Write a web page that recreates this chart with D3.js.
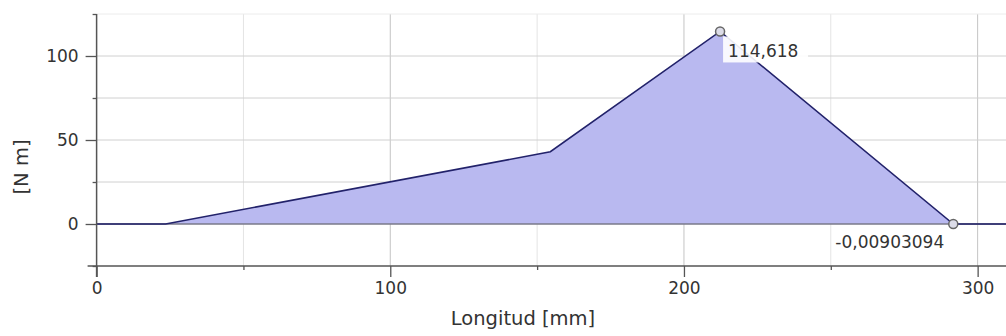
<!DOCTYPE html>
<html>
<head>
<meta charset="utf-8">
<script src="https://cdn.jsdelivr.net/npm/d3@7"></script>
<style>
  body { margin: 0; background: #fff; }
  text { font-family: "DejaVu Sans", Verdana, sans-serif; fill: #333; }
</style>
</head>
<body>
<div id="chart"></div>
<script>
// data
var longitud = [0, 23.5, 154.5, 212.3, 291.7, 310];
var momento = [0, 0, 43, 114.618, -0.00903094, 0];
var xMajorTicks = [0, 100, 200, 300];
var xMinorTicks = [50, 150, 250];
var yMajorTicks = [0, 50, 100];
var yMinorTicks = [-25, 25, 75, 125];
var markedPoints = [3, 4];
var markLabels = ["114,618", "-0,00903094"];

var svgWidth = 1006;
var svgHeight = 336;

var svg = d3.select("#chart")
  .append("svg")
  .attr("width", svgWidth)
  .attr("height", svgHeight);

var x = d3.scaleLinear().domain([0, 310]).range([96.6, 1007]);
var y = d3.scaleLinear().domain([-25, 125]).range([266, 14]);

var data = longitud.map((d, i) => ({ x: d, y: momento[i] }));

// grid
var grid = svg.append("g");
grid.selectAll(".vmin")
  .data(xMinorTicks)
  .enter().append("line")
  .attr("x1", d => x(d)).attr("x2", d => x(d))
  .attr("y1", y(125)).attr("y2", y(-25))
  .attr("stroke", "#e4e4e4");
grid.selectAll(".vmaj")
  .data(xMajorTicks.slice(1))
  .enter().append("line")
  .attr("x1", d => x(d)).attr("x2", d => x(d))
  .attr("y1", y(125)).attr("y2", y(-25))
  .attr("stroke", "#c4c4c4");
grid.selectAll(".h")
  .data([125, 100, 75, 50, 25])
  .enter().append("line")
  .attr("x1", x(0)).attr("x2", svgWidth)
  .attr("y1", d => y(d)).attr("y2", d => y(d))
  .attr("stroke", d => d === 125 ? "#ececec" : "#d0d0d0");

// area and line
var area = d3.area()
  .x(d => x(d.x))
  .y0(y(0))
  .y1(d => y(d.y));

svg.append("path")
  .datum(data)
  .attr("d", area)
  .attr("fill", "#b9b9f0");

svg.append("line")
  .attr("x1", x(0)).attr("x2", svgWidth)
  .attr("y1", y(0)).attr("y2", y(0))
  .attr("stroke", "#7a7a8a")
  .attr("stroke-width", 1.5);

var line = d3.line()
  .x(d => x(d.x))
  .y(d => y(d.y));

svg.append("path")
  .datum(data)
  .attr("d", line)
  .attr("fill", "none")
  .attr("stroke", "#22226a")
  .attr("stroke-width", 1.6);

// axes
var bottomAxis = svg.append("g")
  .attr("transform", `translate(0, ${y(-25)})`)
  .call(d3.axisBottom(x).tickValues(xMajorTicks).tickSize(11).tickPadding(5).tickFormat(d3.format("d")));
svg.append("g")
  .attr("transform", `translate(0, ${y(-25)})`)
  .call(d3.axisBottom(x).tickValues(xMinorTicks).tickSize(4).tickFormat(""))
  .select(".domain").remove();

var leftAxis = svg.append("g")
  .attr("transform", `translate(${x(0)}, 0)`)
  .call(d3.axisLeft(y).tickValues(yMajorTicks).tickSize(11).tickPadding(7).tickFormat(d3.format("d")));
svg.append("g")
  .attr("transform", `translate(${x(0)}, 0)`)
  .call(d3.axisLeft(y).tickValues(yMinorTicks).tickSize(4).tickFormat(""))
  .select(".domain").remove();

svg.selectAll(".domain").attr("stroke", "#555").attr("stroke-width", 1.5);
svg.selectAll(".tick line").attr("stroke", "#555").attr("stroke-width", 1.3);
svg.selectAll(".tick text")
  .attr("font-size", "17px")
  .attr("font-family", "DejaVu Sans, Verdana, sans-serif")
  .attr("fill", "#383838");

// extend axis lines past origin
bottomAxis.select(".domain").attr("d", `M${x(0) - 9},0H${svgWidth}`);
leftAxis.select(".domain").attr("d", `M0,${y(125)}V${y(-25) + 11}`);

// point labels
var lbl = svg.append("g");
lbl.append("rect")
  .attr("x", x(longitud[3]) + 3)
  .attr("y", y(momento[3]) + 5)
  .attr("width", 85)
  .attr("height", 26)
  .attr("fill", "#fff")
  .attr("opacity", 0.9);
lbl.append("text")
  .attr("x", x(longitud[3]) + 8)
  .attr("y", y(momento[3]) + 26)
  .attr("font-size", "17px")
  .attr("fill", "#383838")
  .text(markLabels[0]);
lbl.append("text")
  .attr("x", x(longitud[4]) - 9)
  .attr("y", y(momento[4]) + 24)
  .attr("text-anchor", "end")
  .attr("font-size", "17px")
  .attr("fill", "#383838")
  .text(markLabels[1]);

svg.selectAll(".mark")
  .data(markedPoints.map(i => data[i]))
  .enter().append("circle")
  .attr("cx", d => x(d.x))
  .attr("cy", d => y(d.y))
  .attr("r", 4.5)
  .attr("fill", "#dcdce8")
  .attr("stroke", "#666")
  .attr("stroke-width", 1.5);

// axis titles
svg.append("text")
  .attr("x", 523)
  .attr("y", 325)
  .attr("text-anchor", "middle")
  .attr("font-size", "19.5px")
  .attr("fill", "#383838")
  .text("Longitud [mm]");

svg.append("text")
  .attr("transform", "translate(28, 167) rotate(-90)")
  .attr("text-anchor", "middle")
  .attr("font-size", "19.5px")
  .attr("fill", "#383838")
  .text("[N m]");
</script>
</body>
</html>
